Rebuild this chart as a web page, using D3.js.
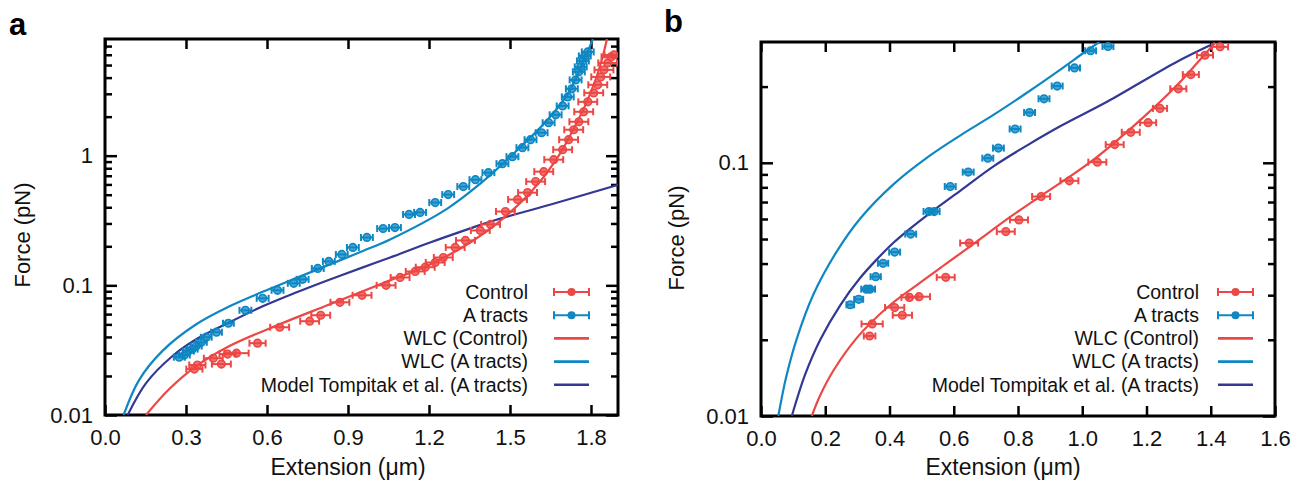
<!DOCTYPE html>
<html>
<head>
<meta charset="utf-8">
<script src="https://cdn.jsdelivr.net/npm/d3@7"></script>
<style>
  body { margin: 0; background: #fff; }
  svg { display: block; font-family: "Liberation Sans", Arial, sans-serif; }
</style>
</head>
<body>
<div id="chart"></div>
<script>
// ---- panel a : measured points ----
const aCtrlExt = [0.331,0.342,0.401,0.431,0.454,0.487,0.565,0.647,0.758,0.799,0.870,0.952,1.041,1.093,1.149,1.186,1.223,1.253,1.297,1.335,1.390,1.428,1.483,1.528,1.565,1.595,1.625,1.662,1.695,1.717,1.736,1.755,1.773,1.788,1.810,1.825,1.836,1.848,1.862,1.874,1.885];
const aCtrlForce = [0.0226,0.0243,0.0274,0.0247,0.0295,0.0300,0.0358,0.0475,0.0529,0.0588,0.0740,0.0838,0.100,0.115,0.128,0.138,0.150,0.164,0.196,0.222,0.265,0.295,0.371,0.459,0.519,0.631,0.753,0.932,1.112,1.328,1.585,1.826,2.18,2.60,3.05,3.52,4.05,4.59,5.19,5.78,5.98];
const aCtrlErr = [0.03,0.03,0.035,0.035,0.03,0.045,0.03,0.035,0.035,0.035,0.035,0.035,0.035,0.035,0.035,0.035,0.035,0.035,0.035,0.035,0.035,0.035,0.035,0.035,0.035,0.035,0.035,0.035,0.035,0.035,0.035,0.035,0.035,0.035,0.035,0.035,0.035,0.035,0.035,0.035,0.035];

const aAtrExt = [0.275,0.294,0.309,0.323,0.338,0.357,0.375,0.413,0.457,0.520,0.584,0.639,0.699,0.732,0.788,0.829,0.877,0.918,0.970,1.030,1.074,1.126,1.167,1.223,1.271,1.327,1.372,1.420,1.472,1.509,1.546,1.576,1.617,1.643,1.669,1.695,1.714,1.729,1.743,1.755,1.762,1.770,1.777,1.788];
const aAtrForce = [0.0279,0.0290,0.0311,0.0322,0.0340,0.0364,0.0398,0.0435,0.0510,0.0642,0.0794,0.0916,0.1036,0.1112,0.135,0.153,0.173,0.196,0.234,0.274,0.279,0.352,0.365,0.435,0.501,0.578,0.653,0.740,0.868,0.982,1.152,1.328,1.503,1.794,2.066,2.42,2.84,3.28,3.84,4.43,4.84,5.38,5.88,6.31];
const aAtrErr = [0.02,0.02,0.02,0.02,0.02,0.02,0.02,0.02,0.02,0.022,0.022,0.022,0.022,0.022,0.022,0.022,0.022,0.022,0.022,0.022,0.022,0.022,0.022,0.022,0.022,0.022,0.022,0.022,0.022,0.022,0.022,0.022,0.022,0.022,0.022,0.022,0.022,0.022,0.022,0.022,0.022,0.022,0.022,0.022];

// ---- panel a : fitted curves ----
const aWlcCtrlExt = [0.152,0.238,0.338,0.461,0.647,0.833,1.056,1.204,1.353,1.465,1.576,1.669,1.732,1.781,1.818,1.844,1.859];
const aWlcCtrlForce = [0.01,0.01585,0.0238,0.0340,0.0501,0.0714,0.1092,0.145,0.214,0.316,0.519,0.915,1.557,2.51,3.91,5.88,7.94];
const aWlcAtrExt = [0.069,0.126,0.212,0.338,0.461,0.584,0.710,0.833,0.955,1.056,1.268,1.390,1.513,1.639,1.714,1.773,1.807];
const aWlcAtrForce = [0.01,0.01858,0.0311,0.0501,0.0689,0.0891,0.1142,0.145,0.184,0.226,0.391,0.609,1.036,1.892,3.0,5.38,7.94];
const aModelExt = [0.084,0.152,0.249,0.338,0.461,0.584,0.710,0.833,0.955,1.056,1.204,1.342,1.428,1.651,1.903];
const aModelForce = [0.01,0.01762,0.0284,0.0384,0.0519,0.0689,0.0884,0.111,0.1375,0.164,0.214,0.270,0.311,0.420,0.598];

// ---- panel b : measured points ----
const bCtrlExt = [0.338,0.346,0.416,0.440,0.462,0.492,0.575,0.648,0.762,0.803,0.872,0.960,1.047,1.101,1.151,1.205,1.242,1.299,1.338,1.382,1.429];
const bCtrlForce = [0.0207,0.0231,0.0268,0.0250,0.0294,0.0296,0.0353,0.0482,0.0535,0.0595,0.0736,0.0849,0.1006,0.118,0.132,0.144,0.164,0.196,0.223,0.266,0.287];
const bCtrlErr = [0.018,0.033,0.03,0.03,0.025,0.034,0.028,0.028,0.028,0.028,0.028,0.028,0.028,0.028,0.028,0.025,0.022,0.025,0.025,0.025,0.025];

const bAtrExt = [0.278,0.304,0.328,0.339,0.357,0.380,0.416,0.466,0.523,0.539,0.589,0.645,0.706,0.739,0.791,0.836,0.881,0.922,0.976,1.026,1.080];
const bAtrForce = [0.0275,0.0289,0.0317,0.0317,0.0355,0.0401,0.0444,0.0523,0.0642,0.0642,0.0806,0.0919,0.1043,0.1143,0.136,0.158,0.179,0.201,0.237,0.277,0.288];
const bAtrErr = [0.012,0.014,0.016,0.016,0.016,0.016,0.017,0.017,0.017,0.017,0.017,0.017,0.017,0.017,0.017,0.017,0.017,0.017,0.017,0.017,0.017];

// ---- panel b : fitted curves ----
const bWlcCtrlExt = [0.158,0.184,0.226,0.299,0.393,0.487,0.580,0.664,0.778,0.872,1.028,1.184,1.291,1.372,1.413];
const bWlcCtrlForce = [0.01,0.01205,0.01516,0.0204,0.02683,0.03304,0.04025,0.0481,0.0614,0.0741,0.1012,0.1488,0.200,0.260,0.297];
const bWlcAtrExt = [0.054,0.078,0.112,0.163,0.237,0.309,0.413,0.518,0.622,0.726,0.830,0.934,1.007,1.053];
const bWlcAtrForce = [0.01,0.01419,0.0203,0.0302,0.0449,0.0603,0.0824,0.1051,0.1287,0.1553,0.190,0.2346,0.2733,0.3];
const bModelExt = [0.096,0.1375,0.184,0.247,0.309,0.362,0.413,0.466,0.528,0.622,0.726,0.830,0.934,1.080,1.288,1.413];
const bModelForce = [0.01,0.01459,0.01997,0.02743,0.03514,0.04174,0.04842,0.05523,0.06362,0.0779,0.0973,0.1175,0.140,0.175,0.248,0.297];

// ---- axis ticks / labels ----
const aXTicks = [0, 0.3, 0.6, 0.9, 1.2, 1.5, 1.8];
const bXTicks = [0, 0.2, 0.4, 0.6, 0.8, 1.0, 1.2, 1.4, 1.6];
const aYTicks = [0.01, 0.1, 1];
const bYTicks = [0.01, 0.1];
const legendLabels = ["Control", "A tracts", "WLC (Control)", "WLC (A tracts)", "Model Tompitak et al. (A tracts)"];

const RED = "#ec4744", LIGHT = "#0e87c3", DARK = "#323893";

const width = 1311, height = 488;
const svg = d3.select("#chart").append("svg")
  .attr("width", width)
  .attr("height", height);

const zip = (xs, ys, es) => xs.map((x, i) => ({x: x, y: ys[i], e: es ? es[i] : 0}));

function minorTicks(lo, hi) {
  const out = [];
  for (let dec = -3; dec < 2; dec++) {
    for (let m = 2; m <= 9; m++) {
      const v = m * Math.pow(10, dec);
      if (v > lo * 1.0001 && v < hi * 0.999) out.push(v);
    }
  }
  return out;
}

function drawPanel(cfg) {
  const {left, top, right, bottom} = cfg.box;
  const x = d3.scaleLinear().domain(cfg.xDomain).range([left, right]);
  const y = d3.scaleLog().domain(cfg.yDomain).range([bottom, top]);
  const g = svg.append("g");

  const clipId = "clip" + cfg.name;
  svg.append("clipPath").attr("id", clipId)
    .append("rect").attr("x", left).attr("y", top)
    .attr("width", right - left).attr("height", bottom - top);

  // axes: ticks pointing inward
  const fmtX = d => d.toFixed(1);
  g.append("g").attr("transform", `translate(0,${bottom})`)
    .call(d3.axisBottom(x).tickValues(cfg.xTicks).tickSize(-10).tickPadding(14).tickFormat(fmtX));
  g.append("g").attr("transform", `translate(0,${top})`)
    .call(d3.axisTop(x).tickValues(cfg.xTicks).tickSize(-10).tickFormat(""));
  g.append("g").attr("transform", `translate(${left},0)`)
    .call(d3.axisLeft(y).tickValues(cfg.yTicks).tickSize(-12).tickPadding(12).tickFormat(d => String(d)));
  g.append("g").attr("transform", `translate(${right},0)`)
    .call(d3.axisRight(y).tickValues(cfg.yTicks).tickSize(-12).tickFormat(""));
  const minors = minorTicks(cfg.yDomain[0], cfg.yDomain[1]);
  g.append("g").attr("transform", `translate(${left},0)`)
    .call(d3.axisLeft(y).tickValues(minors).tickSize(-7).tickFormat(""));
  g.append("g").attr("transform", `translate(${right},0)`)
    .call(d3.axisRight(y).tickValues(minors).tickSize(-7).tickFormat(""));

  g.selectAll(".domain").remove();
  g.selectAll(".tick line").attr("stroke", "#000").attr("stroke-width", 2.5);
  g.selectAll(".tick text").attr("fill", "#111").style("font-size", "22px");

  // frame
  g.append("rect")
    .attr("x", left).attr("y", top)
    .attr("width", right - left).attr("height", bottom - top)
    .attr("fill", "none").attr("stroke", "#000").attr("stroke-width", 3);

  // curves
  const line = d3.line().x(d => x(d.x)).y(d => y(d.y)).curve(d3.curveCatmullRom.alpha(0.5));
  const plot = g.append("g").attr("clip-path", `url(#${clipId})`);
  cfg.curves.forEach(c => {
    plot.append("path").datum(c.data)
      .attr("d", line)
      .attr("fill", "none")
      .attr("stroke", c.color)
      .attr("stroke-width", 2.2);
  });

  // data with horizontal error bars
  cfg.series.forEach(s => {
    const pts = plot.append("g").selectAll("g").data(s.data).join("g")
      .attr("stroke", s.color).attr("stroke-width", 2);
    pts.append("line")
      .attr("x1", d => x(d.x - d.e)).attr("x2", d => x(d.x + d.e))
      .attr("y1", d => y(d.y)).attr("y2", d => y(d.y));
    pts.append("line")
      .attr("x1", d => x(d.x - d.e)).attr("x2", d => x(d.x - d.e))
      .attr("y1", d => y(d.y) - 3.5).attr("y2", d => y(d.y) + 3.5);
    pts.append("line")
      .attr("x1", d => x(d.x + d.e)).attr("x2", d => x(d.x + d.e))
      .attr("y1", d => y(d.y) - 3.5).attr("y2", d => y(d.y) + 3.5);
    pts.append("circle")
      .attr("cx", d => x(d.x)).attr("cy", d => y(d.y)).attr("r", 3.8)
      .attr("fill", s.color).attr("fill-opacity", 0.75).attr("stroke-width", 1.6);
  });

  // legend
  const lg = g.append("g");
  const kinds = ["pt", "pt", "ln", "ln", "ln"];
  const cols = [RED, LIGHT, RED, LIGHT, DARK];
  legendLabels.forEach((lab, i) => {
    const yy = cfg.legend.y + i * 23.2;
    lg.append("text")
      .attr("x", cfg.legend.textX).attr("y", yy)
      .attr("dy", "0.35em").attr("text-anchor", "end")
      .style("font-size", "19.5px").attr("fill", "#111")
      .text(lab);
    const x1 = cfg.legend.symX, x2 = cfg.legend.symX + 35;
    lg.append("line").attr("x1", x1).attr("x2", x2).attr("y1", yy).attr("y2", yy)
      .attr("stroke", cols[i]).attr("stroke-width", kinds[i] === "pt" ? 2 : 2.6);
    if (kinds[i] === "pt") {
      [x1, x2].forEach(xc => lg.append("line").attr("x1", xc).attr("x2", xc)
        .attr("y1", yy - 4).attr("y2", yy + 4).attr("stroke", cols[i]).attr("stroke-width", 2));
      lg.append("circle").attr("cx", (x1 + x2) / 2).attr("cy", yy).attr("r", 4).attr("fill", cols[i]);
    }
  });

  // titles
  g.append("text")
    .attr("x", cfg.xTitleX).attr("y", 475)
    .attr("text-anchor", "middle").style("font-size", "23px").attr("fill", "#111")
    .text("Extension (μm)");
  g.append("text")
    .attr("transform", `translate(${cfg.yTitleX},${cfg.yTitleY}) rotate(-90)`)
    .attr("text-anchor", "middle").style("font-size", "22px").attr("fill", "#111")
    .text("Force (pN)");
  g.append("text")
    .attr("x", cfg.letter[0]).attr("y", cfg.letter[1])
    .style("font-size", "31px").style("font-weight", "bold").attr("fill", "#000")
    .text(cfg.name);
}

drawPanel({
  name: "a",
  box: {left: 105, top: 39, right: 618, bottom: 415},
  xDomain: [0, 1.9], yDomain: [0.01, 7.94],
  xTicks: aXTicks, yTicks: aYTicks,
  curves: [
    {color: DARK, data: zip(aModelExt, aModelForce)},
    {color: LIGHT, data: zip(aWlcAtrExt, aWlcAtrForce)},
    {color: RED, data: zip(aWlcCtrlExt, aWlcCtrlForce)}
  ],
  series: [
    {color: LIGHT, data: zip(aAtrExt, aAtrForce, aAtrErr)},
    {color: RED, data: zip(aCtrlExt, aCtrlForce, aCtrlErr)}
  ],
  legend: {y: 292, textX: 528, symX: 554},
  xTitleX: 348, yTitleX: 30, yTitleY: 235,
  letter: [9, 35]
});

drawPanel({
  name: "b",
  box: {left: 761, top: 42, right: 1275, bottom: 416},
  xDomain: [0, 1.6], yDomain: [0.01, 0.3],
  xTicks: bXTicks, yTicks: bYTicks,
  curves: [
    {color: DARK, data: zip(bModelExt, bModelForce)},
    {color: LIGHT, data: zip(bWlcAtrExt, bWlcAtrForce)},
    {color: RED, data: zip(bWlcCtrlExt, bWlcCtrlForce)}
  ],
  series: [
    {color: LIGHT, data: zip(bAtrExt, bAtrForce, bAtrErr)},
    {color: RED, data: zip(bCtrlExt, bCtrlForce, bCtrlErr)}
  ],
  legend: {y: 292, textX: 1199, symX: 1218},
  xTitleX: 1003, yTitleX: 684, yTitleY: 238,
  letter: [664, 32]
});
</script>
</body>
</html>
